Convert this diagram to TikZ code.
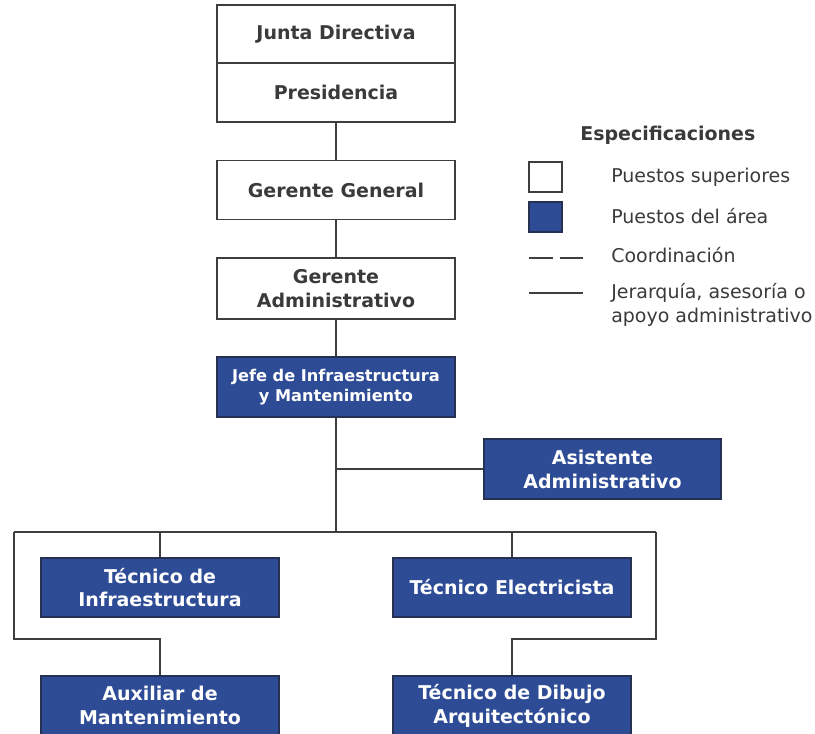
\documentclass[tikz,border=0pt]{standalone}
\usepackage{fontspec}
\setmainfont{DejaVu Sans}
\usepackage{tikz}
\usetikzlibrary{positioning, calc}

\definecolor{areablue}{RGB}{46,76,150}
\definecolor{areaedge}{RGB}{38,48,82}
\definecolor{edgegray}{RGB}{62,62,62}
\definecolor{labelgray}{RGB}{58,58,58}

\begin{document}
\begin{tikzpicture}[
		x=0.025cm, y=-0.025cm,
		top_box/.style={draw=edgegray, line width=1.4pt, fill=white, text=labelgray, minimum width=5.95cm, minimum height=1.475cm, inner sep=0pt, align=center, font=\fontsize{13.5}{17}\selectfont\bfseries},
		area_box/.style={top_box, draw=areaedge, fill=areablue, text=white},
		link/.style={draw=edgegray, line width=1.5pt},
		legend_text/.style={anchor=west, inner sep=0pt, text=labelgray, align=left, font=\fontsize{13.5}{17}\selectfont}
		]
		\useasboundingbox (0,0) rectangle (815,734);
		
		% Upper posts
		\node[top_box, minimum height=1.45cm] (junta) at (336,34) {Junta Directiva};
		\node[top_box] (presidencia) at (336,92.5) {Presidencia};
		\node[top_box] (gerente_general) at (336,190) {Gerente General};
		\node[top_box, minimum height=1.525cm] (gerente_admin) at (336,288.5) {Gerente\\Administrativo};
		
		% Area posts
		\node[area_box, minimum height=1.5cm, font=\fontsize{11.5}{14}\selectfont\bfseries] (jefe) at (336,387) {Jefe de Infraestructura\\y Mantenimiento};
		\node[area_box, minimum width=5.925cm, minimum height=1.5cm] (asistente) at (602.5,469) {Asistente\\Administrativo};
		\node[area_box, minimum width=5.925cm] (tec_infra) at (160,587.5) {Técnico de\\Infraestructura};
		\node[area_box, minimum width=5.925cm] (tec_elec) at (512,587.5) {Técnico Electricista};
		\node[area_box, minimum width=5.925cm] (auxiliar) at (160,705.5) {Auxiliar de\\Mantenimiento};
		\node[area_box, minimum width=5.925cm] (dibujo) at (512,705.5) {Técnico de Dibujo\\Arquitectónico};
		
		% Connectors
		\coordinate (bus_left) at (14,532);
		\coordinate (bus_right) at (656,532);
		\coordinate (low_left) at (14,639);
		\coordinate (low_right) at (656,639);
		
		\draw[link] (presidencia) -- (gerente_general);
		\draw[link] (gerente_general) -- (gerente_admin);
		\draw[link] (gerente_admin) -- (jefe);
		\draw[link] (jefe.south) -- (jefe.south |- bus_left);
		\draw[link] (jefe.south |- asistente.west) -- (asistente.west);
		\draw[link] (bus_left) -- (bus_right);
		\draw[link] (tec_infra.north |- bus_left) -- (tec_infra.north);
		\draw[link] (tec_elec.north |- bus_left) -- (tec_elec.north);
		\draw[link] (bus_left) -- (low_left) -| (auxiliar.north);
		\draw[link] (bus_right) -- (low_right) -| (dibujo.north);
		
		% Legend
		\node[anchor=west, inner sep=0pt, text=labelgray, font=\fontsize{13.5}{17}\selectfont\bfseries] (legend_title) at (580,135) {Especificaciones};
		\node[draw=edgegray, line width=1.4pt, fill=white, minimum width=0.825cm, minimum height=0.75cm, inner sep=0pt] (key_upper) at (545.5,177) {};
		\node[draw=areaedge, line width=1.4pt, fill=areablue, minimum width=0.825cm, minimum height=0.75cm, inner sep=0pt] (key_area) at (545.5,217) {};
		\coordinate (dash_a) at (529,258);
		\coordinate (dash_b) at (583,258);
		\coordinate (line_a) at (529,293);
		\coordinate (line_b) at (583,293);
		\draw[link, dash pattern=on 17pt off 5pt] (dash_a) -- (dash_b);
		\draw[link] (line_a) -- (line_b);
		
		\node[legend_text] (txt_upper) at (611,177) {Puestos superiores};
		\node[legend_text] (txt_area) at (611,216) {Puestos del área};
		\node[legend_text] (txt_coord) at (611,255) {Coordinación};
		\node[legend_text] (txt_hier) at (611,305) {Jerarquía, asesoría o\\apoyo administrativo};
		
	\end{tikzpicture}
\end{document}
